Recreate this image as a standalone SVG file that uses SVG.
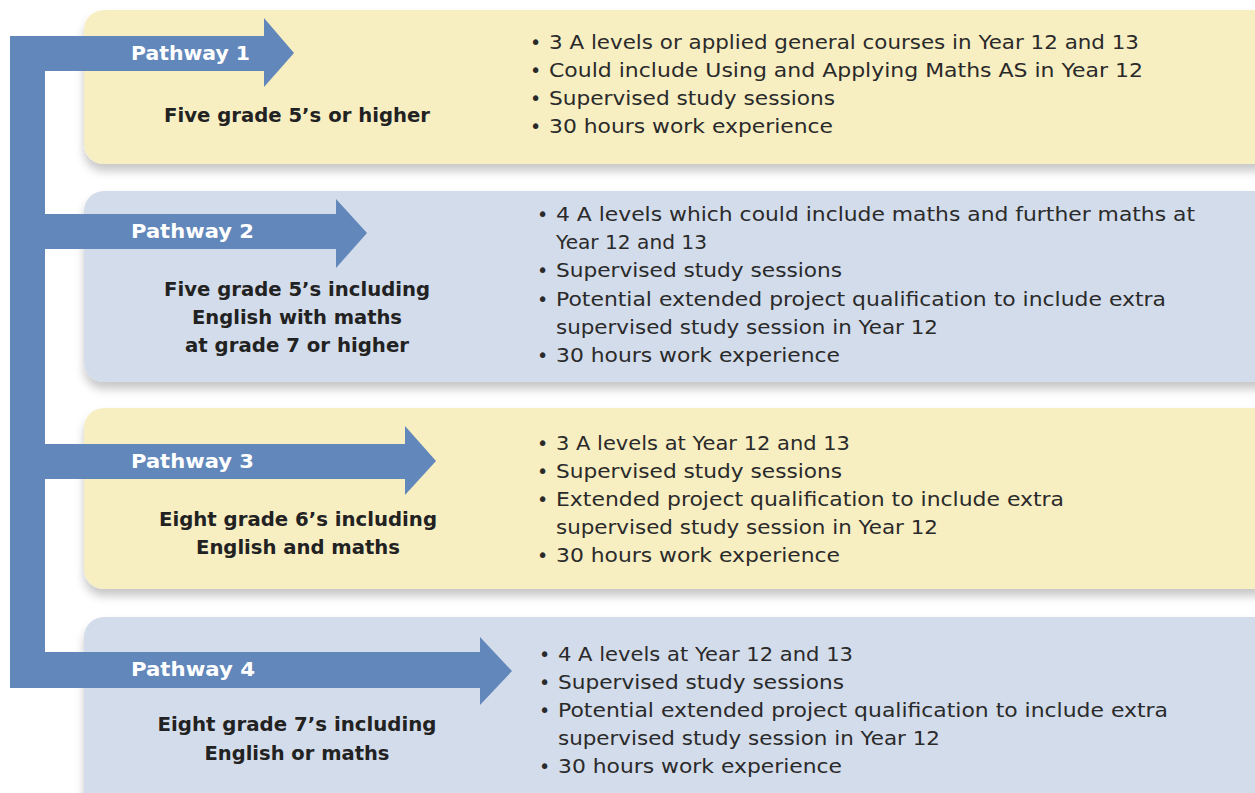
<svg xmlns="http://www.w3.org/2000/svg" width="1255" height="793" viewBox="0 0 1255 793">
<defs>
<filter id="sh" x="-5%" y="-10%" width="110%" height="130%">
<feDropShadow dx="0" dy="7" stdDeviation="5" flood-color="#000" flood-opacity="0.22"/>
</filter>
<style>
.y{fill:#f7eec2;filter:url(#sh)}
.b{fill:#d3dcea;filter:url(#sh)}
text{font-family:"DejaVu Sans","Open Sans",sans-serif}
.lb{font-weight:700;font-size:20px;fill:#fff}
.req{font-weight:700;font-size:19px;fill:#222;text-anchor:middle}
.bl{font-size:19px;fill:#2a2a2a}
</style>
</defs>
<rect width="1255" height="793" fill="#fff"/>
<g id="node1">
<rect class="y" x="84" y="10" width="1190" height="154" rx="20"/>
<text class="req" x="297" y="122" textLength="266" lengthAdjust="spacingAndGlyphs">Five grade 5’s or higher</text>
<text class="bl" x="530" y="49">•</text>
<text class="bl" x="549" y="49" textLength="590" lengthAdjust="spacingAndGlyphs">3 A levels or applied general courses in Year 12 and 13</text>
<text class="bl" x="530" y="77">•</text>
<text class="bl" x="549" y="77" textLength="594" lengthAdjust="spacingAndGlyphs">Could include Using and Applying Maths AS in Year 12</text>
<text class="bl" x="530" y="105">•</text>
<text class="bl" x="549" y="105" textLength="286" lengthAdjust="spacingAndGlyphs">Supervised study sessions</text>
<text class="bl" x="530" y="133">•</text>
<text class="bl" x="549" y="133" textLength="284" lengthAdjust="spacingAndGlyphs">30 hours work experience</text>
</g>
<g id="node2">
<rect class="b" x="84" y="191" width="1190" height="191" rx="20"/>
<text class="req" x="297" y="296" textLength="266" lengthAdjust="spacingAndGlyphs">Five grade 5’s including</text>
<text class="req" x="297" y="324" textLength="210" lengthAdjust="spacingAndGlyphs">English with maths</text>
<text class="req" x="297" y="352" textLength="224" lengthAdjust="spacingAndGlyphs">at grade 7 or higher</text>
<text class="bl" x="537" y="221">•</text>
<text class="bl" x="556" y="221" textLength="639" lengthAdjust="spacingAndGlyphs">4 A levels which could include maths and further maths at</text>
<text class="bl" x="556" y="249" textLength="151" lengthAdjust="spacingAndGlyphs">Year 12 and 13</text>
<text class="bl" x="537" y="277">•</text>
<text class="bl" x="556" y="277" textLength="286" lengthAdjust="spacingAndGlyphs">Supervised study sessions</text>
<text class="bl" x="537" y="306">•</text>
<text class="bl" x="556" y="306" textLength="610" lengthAdjust="spacingAndGlyphs">Potential extended project qualification to include extra</text>
<text class="bl" x="556" y="334" textLength="382" lengthAdjust="spacingAndGlyphs">supervised study session in Year 12</text>
<text class="bl" x="537" y="362">•</text>
<text class="bl" x="556" y="362" textLength="284" lengthAdjust="spacingAndGlyphs">30 hours work experience</text>
</g>
<g id="node3">
<rect class="y" x="84" y="408" width="1190" height="181" rx="20"/>
<text class="req" x="298" y="526" textLength="278" lengthAdjust="spacingAndGlyphs">Eight grade 6’s including</text>
<text class="req" x="298" y="554" textLength="204" lengthAdjust="spacingAndGlyphs">English and maths</text>
<text class="bl" x="537" y="450">•</text>
<text class="bl" x="556" y="450" textLength="294" lengthAdjust="spacingAndGlyphs">3 A levels at Year 12 and 13</text>
<text class="bl" x="537" y="478">•</text>
<text class="bl" x="556" y="478" textLength="286" lengthAdjust="spacingAndGlyphs">Supervised study sessions</text>
<text class="bl" x="537" y="506">•</text>
<text class="bl" x="556" y="506" textLength="508" lengthAdjust="spacingAndGlyphs">Extended project qualification to include extra</text>
<text class="bl" x="556" y="534" textLength="382" lengthAdjust="spacingAndGlyphs">supervised study session in Year 12</text>
<text class="bl" x="537" y="562">•</text>
<text class="bl" x="556" y="562" textLength="284" lengthAdjust="spacingAndGlyphs">30 hours work experience</text>
</g>
<g id="node4">
<rect class="b" x="84" y="617" width="1190" height="200" rx="20"/>
<text class="req" x="297" y="731" textLength="279" lengthAdjust="spacingAndGlyphs">Eight grade 7’s including</text>
<text class="req" x="297" y="760" textLength="185" lengthAdjust="spacingAndGlyphs">English or maths</text>
<text class="bl" x="539" y="661">•</text>
<text class="bl" x="558" y="661" textLength="295" lengthAdjust="spacingAndGlyphs">4 A levels at Year 12 and 13</text>
<text class="bl" x="539" y="689">•</text>
<text class="bl" x="558" y="689" textLength="286" lengthAdjust="spacingAndGlyphs">Supervised study sessions</text>
<text class="bl" x="539" y="717">•</text>
<text class="bl" x="558" y="717" textLength="610" lengthAdjust="spacingAndGlyphs">Potential extended project qualification to include extra</text>
<text class="bl" x="558" y="745" textLength="382" lengthAdjust="spacingAndGlyphs">supervised study session in Year 12</text>
<text class="bl" x="539" y="773">•</text>
<text class="bl" x="558" y="773" textLength="284" lengthAdjust="spacingAndGlyphs">30 hours work experience</text>
</g>
<g id="connectors">
<path fill="#6287bb" d="M10,36 L264,36 L264,18 L294,53 L264,87 L264,71 L45,71 L45,214 L336,214 L336,199 L367,233 L336,268 L336,249 L45,249 L45,444 L405,444 L405,426 L436,461 L405,495 L405,479 L45,479 L45,652 L480,652 L480,637 L512,671 L480,705 L480,688 L10,688 Z"/>
</g>
<g id="labels">
<text class="lb" x="131" y="60" textLength="119" lengthAdjust="spacingAndGlyphs">Pathway 1</text>
<text class="lb" x="131" y="238" textLength="123" lengthAdjust="spacingAndGlyphs">Pathway 2</text>
<text class="lb" x="131" y="468" textLength="123" lengthAdjust="spacingAndGlyphs">Pathway 3</text>
<text class="lb" x="131" y="676" textLength="124" lengthAdjust="spacingAndGlyphs">Pathway 4</text>
</g>
</svg>
